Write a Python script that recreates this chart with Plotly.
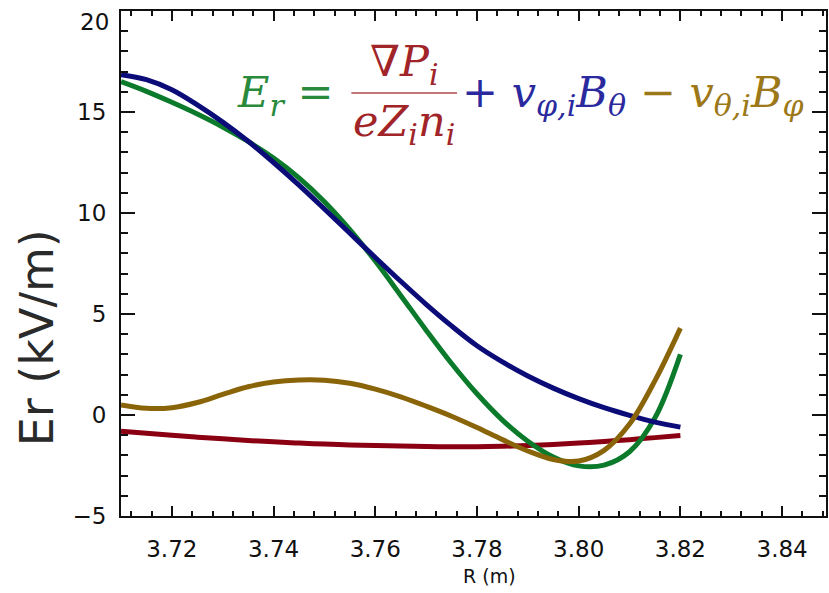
import plotly.graph_objects as go

# Major radius R (m)
R = [3.710, 3.715, 3.720, 3.725, 3.730, 3.735, 3.740, 3.745, 3.750, 3.755,
     3.760, 3.765, 3.770, 3.775, 3.780, 3.785, 3.790, 3.795, 3.800, 3.805,
     3.810, 3.815, 3.820]

# Radial electric field and its force-balance terms (kV/m)
er_total = [16.50, 16.02, 15.48, 14.90, 14.26, 13.54, 12.72, 11.74, 10.56, 9.18,
            7.62, 5.92, 4.20, 2.55, 1.05, -0.25, -1.30, -2.08, -2.52, -2.48,
            -1.82, -0.14, 3.00]
pressure_term = [-0.80, -0.90, -1.00, -1.10, -1.18, -1.26, -1.33, -1.39, -1.44, -1.48,
                 -1.51, -1.54, -1.56, -1.57, -1.57, -1.55, -1.51, -1.46, -1.39, -1.31,
                 -1.22, -1.12, -1.02]
toroidal_term = [16.85, 16.60, 16.10, 15.35, 14.50, 13.55, 12.50, 11.38, 10.20, 9.00,
                 7.80, 6.62, 5.48, 4.41, 3.43, 2.63, 1.93, 1.33, 0.81, 0.36,
                 -0.02, -0.35, -0.60]
poloidal_term = [0.50, 0.33, 0.36, 0.62, 1.02, 1.40, 1.63, 1.73, 1.72, 1.57,
                 1.28, 0.90, 0.44, -0.06, -0.62, -1.22, -1.78, -2.20, -2.28, -1.75,
                 -0.45, 1.70, 4.30]

GREEN = "#0b7a2a"
NAVY = "#0c0c78"
RED = "#8a0012"
GOLD = "#8a6408"

fig = go.Figure()
for y, c in [(pressure_term, RED), (er_total, GREEN), (toroidal_term, NAVY), (poloidal_term, GOLD)]:
    fig.add_trace(go.Scatter(x=R, y=y, mode="lines",
                             line=dict(color=c, width=5, shape="spline"),
                             showlegend=False, hoverinfo="skip"))

axis_common = dict(showgrid=False, zeroline=False, showline=True, linecolor="#111111",
                   linewidth=2, mirror="ticks", ticks="inside", tickcolor="#111111",
                   tickwidth=2, tickfont=dict(family="DejaVu Sans", size=23, color="#111111"))

fig.update_xaxes(range=[3.71, 3.84863], tick0=3.72, dtick=0.02, tickformat=".2f",
                 ticklen=10, ticklabelstandoff=11,
                 minor=dict(ticks="inside", dtick=0.004, tick0=3.72, ticklen=5,
                            tickwidth=1.5, tickcolor="#111111"),
                 **axis_common)
fig.update_yaxes(range=[-5, 20], tickvals=[-5, 0, 5, 10, 15, 20],
                 ticktext=["\u22125", "0", "5", "10", "15", ""],
                 ticklen=14, ticklabelstandoff=8,
                 minor=dict(ticks="inside", dtick=1, tick0=0, ticklen=7,
                            tickwidth=1.5, tickcolor="#111111"),
                 **axis_common)

W, H = 829, 593
L, Rm, T, B = 121, 1, 11, 77
pw, ph = W - L - Rm, H - T - B


def px(x):
    return (x - L) / pw


def py(y):
    return (H - B - y) / ph


ann = []
# top y tick label, kept inside the page
ann.append(dict(x=px(111), y=py(22), xref="paper", yref="paper", xanchor="right",
                yanchor="middle", text="20", showarrow=False,
                font=dict(family="DejaVu Sans", size=23, color="#111111")))
# axis titles
ann.append(dict(x=px(37), y=py(338), xref="paper", yref="paper", textangle=-90,
                xanchor="center", yanchor="middle", text="Er (kV/m)", showarrow=False,
                font=dict(family="DejaVu Sans", size=46, color="#2a2a2a")))
ann.append(dict(x=px(491), y=py(576), xref="paper", yref="paper",
                xanchor="center", yanchor="middle", text="R (m)", showarrow=False,
                font=dict(family="DejaVu Sans", size=19, color="#111111")))

# radial force balance equation
EQF = "DejaVu Serif"
EQS = 43
ann.append(dict(x=px(235), y=py(95), xref="paper", yref="paper", xanchor="left",
                yanchor="middle", showarrow=False,
                text="<i>E</i><sub><i>r</i></sub> =",
                font=dict(family=EQF, size=EQS, color="#2a8a3c")))
ann.append(dict(x=px(405), y=py(64), xref="paper", yref="paper", xanchor="center",
                yanchor="middle", showarrow=False,
                text="\u2207<i>P</i><sub><i>i</i></sub>",
                font=dict(family=EQF, size=EQS, color="#a02428")))
ann.append(dict(x=px(405), y=py(124), xref="paper", yref="paper", xanchor="center",
                yanchor="middle", showarrow=False,
                text="<i>eZ</i><sub><i>i</i></sub><i>n</i><sub><i>i</i></sub>",
                font=dict(family=EQF, size=EQS, color="#a02428")))
ann.append(dict(x=px(461), y=py(95), xref="paper", yref="paper", xanchor="left",
                yanchor="middle", showarrow=False,
                text=("<span style='color:#2a2a9e'>+ <i>v</i><sub><i>\u03c6,i</i></sub>"
                      "<i>B</i><sub><i>\u03b8</i></sub></span>"
                      "<span style='color:#9c7818'> \u2212 <i>v</i><sub><i>\u03b8,i</i></sub>"
                      "<i>B</i><sub><i>\u03c6</i></sub></span>"),
                font=dict(family=EQF, size=EQS)))

fig.add_shape(type="line", xref="paper", yref="paper", x0=px(352), x1=px(458),
              y0=py(93), y1=py(93), line=dict(color="#b0484a", width=1.5))

fig.update_layout(width=W, height=H, margin=dict(l=L, r=Rm, t=T, b=B),
                  paper_bgcolor="white", plot_bgcolor="white", annotations=ann)

fig.write_html("out.html")
